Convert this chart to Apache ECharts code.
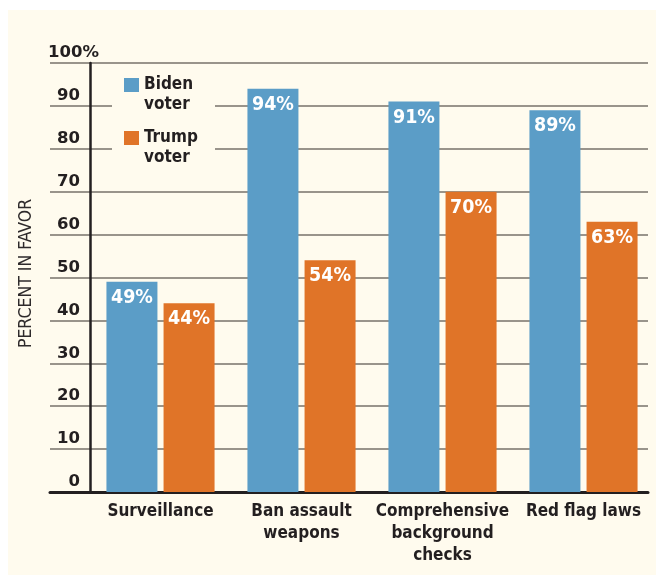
<!DOCTYPE html>
<html>
<head>
<meta charset="utf-8">
<script src="https://cdn.jsdelivr.net/npm/echarts@6/dist/echarts.min.js"></script>
<style>
  html, body { margin: 0; padding: 0; background: #ffffff; }
  #bg { position: absolute; left: 8px; top: 10px; width: 648px; height: 565px; background: #fffbee; }
  #chart { position: absolute; left: 0; top: 0; width: 656px; height: 578px; }
</style>
</head>
<body>
<div id="bg"></div>
<div id="chart"></div>
<script>
const categories = ['Surveillance', 'Ban assault\nweapons', 'Comprehensive\nbackground\nchecks', 'Red flag laws'];
const bidenValues = [49, 94, 91, 89];
const trumpValues = [44, 54, 70, 63];
const seriesNames = ['Biden voter', 'Trump voter'];
const yTicks = [0, 10, 20, 30, 40, 50, 60, 70, 80, 90, 100];

const DARK = '#231f20';
const BLUE = '#5b9dc7';
const ORANGE = '#e07428';
const CREAM = '#fffbee';
const COND = '"DejaVu Sans Condensed", "DejaVu Sans", sans-serif';

const chart = echarts.init(document.getElementById('chart'), null, { renderer: 'canvas' });

const barLabel = {
  show: true,
  position: 'insideTop',
  distance: 6,
  color: '#ffffff',
  fontFamily: COND,
  fontWeight: 'bold',
  fontSize: 19.5,
  formatter: p => p.value + '%'
};

const legendText = {
  color: DARK,
  fontFamily: COND,
  fontWeight: 'bold',
  fontSize: 17,
  lineHeight: 20
};

chart.setOption({
  animation: false,
  backgroundColor: 'transparent',
  grid: [
    { left: 90, right: 2, top: 63, bottom: 86 },
    { left: 50, right: 8, top: 63, bottom: 86 }
  ],
  xAxis: [
    {
      type: 'category', gridIndex: 0, data: categories,
      axisLine: { show: false }, axisTick: { show: false },
      axisLabel: {
        interval: 0, margin: 9, color: DARK, fontFamily: COND,
        fontWeight: 'bold', fontSize: 17, lineHeight: 22, align: 'center'
      }
    },
    {
      type: 'value', gridIndex: 1, min: 0, max: 1,
      axisLine: { show: true, lineStyle: { color: DARK, width: 3 } },
      axisTick: { show: false }, axisLabel: { show: false }, splitLine: { show: false }
    }
  ],
  yAxis: [
    {
      type: 'value', gridIndex: 0, min: 0, max: 100, interval: 10,
      name: 'PERCENT IN FAVOR', nameLocation: 'middle', nameGap: 55, nameRotate: 90,
      nameTextStyle: { color: '#2e2a2b', fontFamily: COND, fontSize: 17.5, padding: [0, 0, 0, 8] },
      axisLine: { show: true, lineStyle: { color: DARK, width: 2.5 } },
      axisTick: { show: false },
      splitLine: { show: false },
      axisLabel: {
        margin: 10, color: DARK, fontFamily: '"DejaVu Sans", sans-serif',
        fontWeight: 'bold', fontSize: 16.5, verticalAlign: 'bottom', lineHeight: 16,
        padding: [0, 0, 2, 0],
        formatter: v => (yTicks.includes(v) && v !== 100) ? String(v) : ''
      }
    },
    {
      type: 'value', gridIndex: 1, min: 0, max: 100, interval: 10,
      name: '100%', nameLocation: 'end', nameGap: 2,
      nameTextStyle: {
        color: DARK, fontFamily: '"DejaVu Sans", sans-serif', fontWeight: 'bold',
        fontSize: 16.5, align: 'left', verticalAlign: 'bottom', padding: [0, 0, 0, -2]
      },
      axisLine: { show: false }, axisTick: { show: false }, axisLabel: { show: false },
      splitLine: { show: true, lineStyle: { color: '#77726a', width: 1.5 } }
    }
  ],
  legend: [
    {
      data: [seriesNames[0]], orient: 'vertical', left: 124, top: 55, padding: 0,
      itemWidth: 15, itemHeight: 14, itemGap: 5,
      formatter: n => '\n' + n.replace(' ', '\n'), textStyle: legendText,
      icon: 'rect', selectedMode: false
    },
    {
      data: [seriesNames[1]], orient: 'vertical', left: 124, top: 108, padding: 0,
      itemWidth: 15, itemHeight: 14, itemGap: 5,
      formatter: n => '\n' + n.replace(' ', '\n'), textStyle: legendText,
      icon: 'rect', selectedMode: false
    }
  ],
  graphic: [
    { type: 'rect', z: 1, shape: { x: 112, y: 72, width: 103, height: 92 }, style: { fill: CREAM } }
  ],
  series: [
    {
      name: seriesNames[0], type: 'bar', xAxisIndex: 0, yAxisIndex: 0,
      data: bidenValues, barWidth: 51, barGap: '12%',
      itemStyle: { color: BLUE }, label: barLabel
    },
    {
      name: seriesNames[1], type: 'bar', xAxisIndex: 0, yAxisIndex: 0,
      data: trumpValues, barWidth: 51, barGap: '12%',
      itemStyle: { color: ORANGE }, label: barLabel
    }
  ]
});
</script>
</body>
</html>
